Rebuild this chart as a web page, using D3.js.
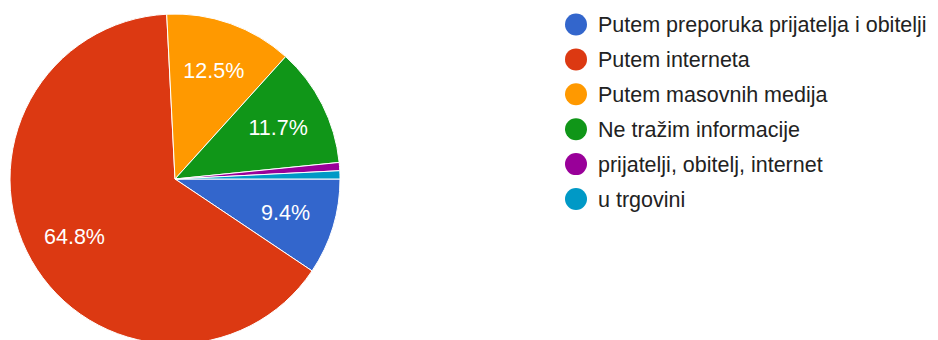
<!DOCTYPE html>
<html>
<head>
<meta charset="utf-8">
<script src="https://cdn.jsdelivr.net/npm/d3@7"></script>
<style>
  html, body { margin: 0; padding: 0; background: #fff; }
  svg { display: block; }
</style>
</head>
<body>
<svg id="chart" width="938" height="340"></svg>
<script>
// Survey answers: where people look for information
const categories = [
  "Putem preporuka prijatelja i obitelji",
  "Putem interneta",
  "Putem masovnih medija",
  "Ne tražim informacije",
  "prijatelji, obitelj, internet",
  "u trgovini"
];
const percentages = [9.4, 64.8, 12.5, 11.7, 0.8, 0.8];
const colors = ["#3366cc", "#dc3912", "#ff9900", "#109618", "#990099", "#0099c6"];

const svg = d3.select("#chart");
const fontFamily = "Arial, 'Liberation Sans', sans-serif";

const cx = 175, cy = 179, radius = 165;

const data = categories.map((c, i) => ({ name: c, value: percentages[i], color: colors[i] }));

// Slices run clockwise starting at 3 o'clock, in answer order
const pie = d3.pie()
  .value(d => d.value)
  .sort(null)
  .startAngle(Math.PI / 2)
  .endAngle(Math.PI / 2 + 2 * Math.PI);

const arc = d3.arc().innerRadius(0).outerRadius(radius);
const labelArc = d3.arc().innerRadius(radius * 0.7).outerRadius(radius * 0.7);

const g = svg.append("g").attr("transform", `translate(${cx},${cy})`);
const arcs = pie(data);

g.selectAll("path.slice")
  .data(arcs)
  .join("path")
  .attr("class", "slice")
  .attr("d", arc)
  .attr("fill", d => d.data.color)
  .attr("stroke", "#ffffff")
  .attr("stroke-width", 1);

const fmt = d3.format(".1f");
g.selectAll("text.pct")
  .data(arcs.filter(d => d.data.value >= 5))
  .join("text")
  .attr("class", "pct")
  .attr("transform", d => `translate(${labelArc.centroid(d)})`)
  .attr("text-anchor", "middle")
  .attr("dy", "0.36em")
  .attr("fill", "#ffffff")
  .attr("font-family", fontFamily)
  .attr("font-size", 21.5)
  .text(d => fmt(d.data.value) + "%");

// Legend
const legendX = 576, legendY0 = 24.5, legendStep = 34.9;
const legend = svg.append("g");
const items = legend.selectAll("g.item")
  .data(data)
  .join("g")
  .attr("class", "item")
  .attr("transform", (d, i) => `translate(${legendX},${legendY0 + i * legendStep})`);

items.append("circle")
  .attr("r", 11)
  .attr("fill", d => d.color);

items.append("text")
  .attr("x", 22)
  .attr("dy", "0.36em")
  .attr("fill", "#222222")
  .attr("font-family", fontFamily)
  .attr("font-size", 21.5)
  .text(d => d.name);
</script>
</body>
</html>
